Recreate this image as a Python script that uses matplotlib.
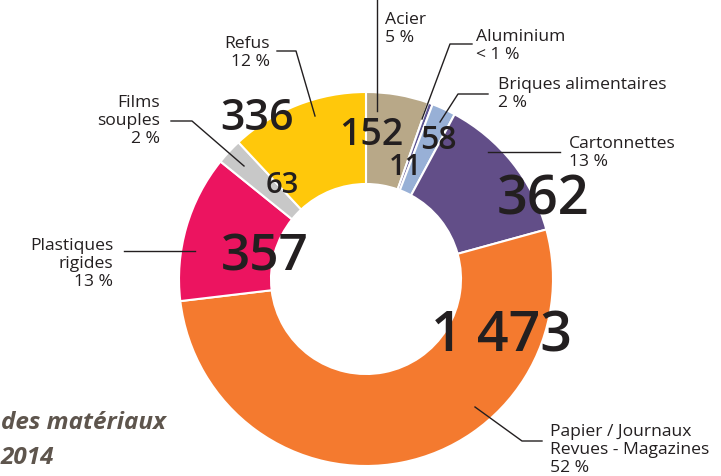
import matplotlib.pyplot as plt

plt.rcParams['font.family'] = ['Open Sans', 'DejaVu Sans']

# data
categories = ['Acier', 'Aluminium', 'Briques alimentaires', 'Cartonnettes',
              'Papier / Journaux\nRevues - Magazines', 'Plastiques\nrigides',
              'Films\nsouples', 'Refus']
tonnages = [152, 11, 58, 362, 1473, 357, 63, 336]
value_labels = ['152', '11', '58', '362', '1 473', '357', '63', '336']
percent_labels = ['5 %', '< 1 %', '2 %', '13 %', '52 %', '13 %', '2 %', '12 %']
colors = ['#b8a888', '#5c5391', '#98b0d6', '#624e88', '#f47a2f', '#ec1460', '#c8c8c8', '#ffc80b']

text_col = '#231f20'

fig = plt.figure(figsize=(7.21, 4.77), dpi=100)
ax = fig.add_axes([0, 0, 1, 1])

# y is inverted, so counterclock=True runs clockwise on screen and -90 is the top
ax.pie(tonnages, colors=colors, center=(366, 280), radius=187,
       startangle=-90, counterclock=True,
       wedgeprops=dict(width=92, edgecolor='white', linewidth=1.5))
ax.set_xlim(0, 721)
ax.set_ylim(477, 0)  # pixel-like coordinates, y down
ax.set_aspect('equal')
ax.axis('off')

# value labels inside the ring
value_pos = [(371, 135), (405, 168), (438, 141), (543, 201), (502, 338), (265, 258), (282, 186), (257, 119)]
value_size = [27, 21, 23, 39, 40, 37, 21, 31]
for lab, (x, y), fs in zip(value_labels, value_pos, value_size):
    ax.text(x, y, lab, fontsize=fs, color=text_col, ha='center', va='center',
            fontweight='semibold')

# category labels with leader lines (x, alignment, first baseline)
label_pos = [(385, 'left', 24), (476, 'left', 41), (498, 'left', 89), (569, 'left', 148),
             (550, 'left', 436), (113, 'right', 250), (160, 'right', 107), (270, 'right', 48)]
step = 18
for name, pct, (x, ha, base) in zip(categories, percent_labels, label_pos):
    lines = name.split('\n') + [pct]
    for i, line in enumerate(lines):
        ax.text(x, base + i * step, line, fontsize=12.6, color=text_col, ha=ha,
                va='baseline')

leaders = [
    [(377, 0), (377, 112)],
    [(472, 45), (450, 45), (422, 120)],
    [(488, 95), (458, 95), (440, 123)],
    [(560, 153), (488, 153)],
    [(542, 442), (522, 442), (475, 408)],
    [(124, 252), (195, 252)],
    [(171, 122), (192, 122), (244, 167)],
    [(277, 52), (296, 52), (315, 117)],
]
for pts in leaders:
    xs, ys = zip(*pts)
    ax.plot(xs, ys, color=text_col, linewidth=1)

# clipped title at the bottom left
ax.text(1, 423, 'des matériaux', fontsize=17.5, fontweight='bold', fontstyle='italic',
        color='#5e554d', ha='left', va='center')
ax.text(1, 458, '2014', fontsize=17.5, fontweight='bold', fontstyle='italic',
        color='#5e554d', ha='left', va='center')

fig.savefig('out.png', dpi=100)
